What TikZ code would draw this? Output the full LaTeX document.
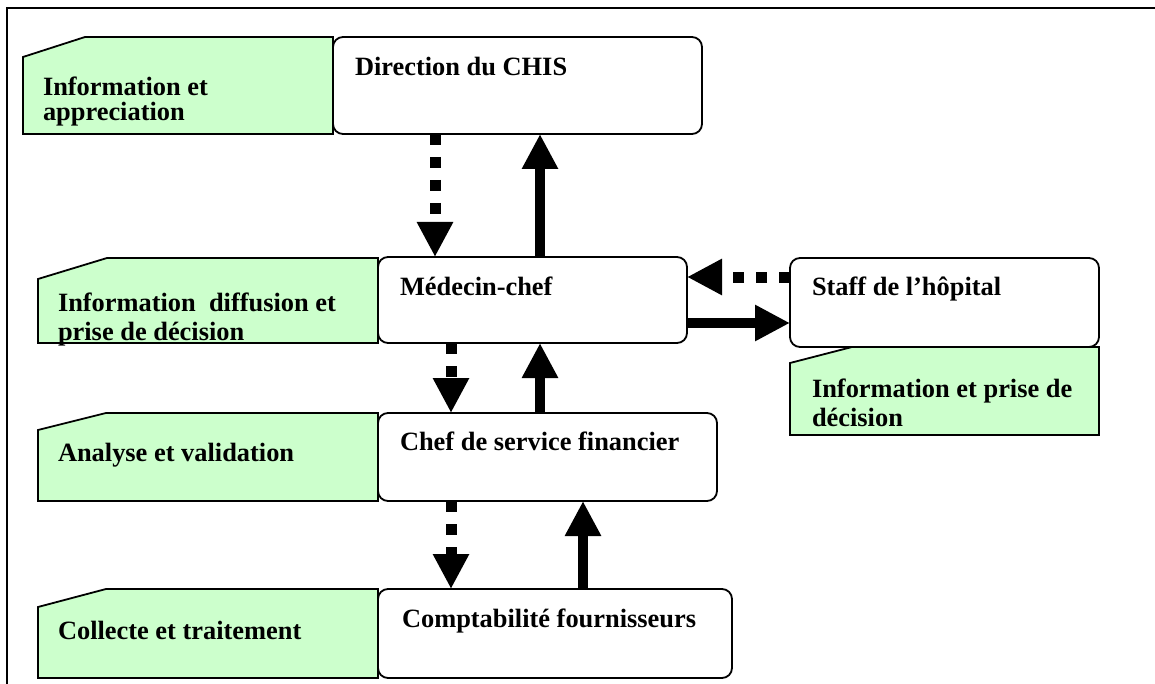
\documentclass[tikz,border=0pt]{standalone}
\usepackage{fontspec}
\setmainfont{Liberation Serif}
\usetikzlibrary{arrows.meta}
\definecolor{paleGreen}{HTML}{CCFFCC}
\begin{document}
\begin{tikzpicture}[x=0.5pt,y=-0.5pt,
  unitbox/.style={draw=black, line width=0.9pt, fill=white, rounded corners=5pt,
    inner sep=0pt, outer sep=0pt},
  tagbox/.style={draw=black, line width=0.9pt, fill=paleGreen},
  lbl/.style={inner sep=0pt, outer sep=0pt, anchor=base west,
    font=\fontsize{13.2}{14.5}\selectfont\bfseries},
  bigtip/.tip={Triangle[width=17pt,length=17.5pt]},
  up/.style={line width=5pt, -bigtip},
  dn/.style={line width=5.5pt, dash pattern=on 5.5pt off 6pt, -bigtip}
]
\useasboundingbox (0,0) rectangle (1155,684);

% frame: top and left rules
\draw[line width=1pt] (1155,8) -- (7,8) -- (7,684);

% green tags with a cut corner
\draw[tagbox] (23,57) -- (85,37) -- (333,37) -- (333,134) -- (23,134) -- cycle;
\draw[tagbox] (38,279) -- (107,258) -- (378,258) -- (378,343) -- (38,343) -- cycle;
\draw[tagbox] (38,430) -- (106,413) -- (378,413) -- (378,501) -- (38,501) -- cycle;
\draw[tagbox] (38,607) -- (106,589) -- (378,589) -- (378,678) -- (38,678) -- cycle;
\draw[tagbox] (790,363) -- (852,347) -- (1099,347) -- (1099,435) -- (790,435) -- cycle;

% unit boxes
\node[unitbox, minimum width=184.5pt, minimum height=48.5pt] (dir)   at (517.5,85.5) {};
\node[unitbox, minimum width=154.5pt, minimum height=43pt]   (med)   at (532.5,300) {};
\node[unitbox, minimum width=169.5pt, minimum height=44pt]   (chef)  at (547.5,457) {};
\node[unitbox, minimum width=177pt,   minimum height=44.5pt] (comp)  at (555,633.5) {};
\node[unitbox, minimum width=154.5pt, minimum height=44.5pt] (staff) at (944.5,302.5) {};

% box titles
\node[lbl] (tdir)   at (355,76)  {Direction du CHIS};
\node[lbl] (tmed)   at (400,295) {Médecin-chef};
\node[lbl] (tchef)  at (400,450) {Chef de service financier};
\node[lbl] (tcomp)  at (402,627) {Comptabilité fournisseurs};
\node[lbl] (tstaff) at (812,295) {Staff de l’hôpital};

% tag texts
\node[lbl] (g1a) at (43,96)  {Information et};
\node[lbl] (g1b) at (43,121) {appreciation};
\node[lbl] (g2a) at (58,311) {Information\ \ diffusion et};
\node[lbl] (g2b) at (58,340) {prise de décision};
\node[lbl] (g3)  at (58,461) {Analyse et\ validation};
\node[lbl] (g4)  at (58,639) {Collecte et traitement};
\node[lbl] (g5a) at (812,397) {Information et prise de};
\node[lbl] (g5b) at (812,426) {décision};

% column positions of the vertical links
\coordinate (xa) at (435,0);
\coordinate (xb) at (540,0);
\coordinate (xc) at (451,0);
\coordinate (xd) at (583,0);
% row positions of the horizontal links
\coordinate (ya) at (0,277);
\coordinate (yb) at (0,323);

% top-down (dashed) and bottom-up (solid) flows
\draw[dn] (dir.south -| xa) -- (med.north -| xa);
\draw[up] (med.north -| xb) -- (dir.south -| xb);
\draw[dn] (med.south -| xc) -- (chef.north -| xc);
\draw[up] (chef.north -| xb) -- (med.south -| xb);
\draw[dn] (chef.south -| xc) -- (comp.north -| xc);
\draw[up] (comp.north -| xd) -- (chef.south -| xd);
\draw[dn] (staff.west |- ya) -- (med.east |- ya);
\draw[up] (med.east |- yb) -- (staff.west |- yb);
\end{tikzpicture}
\end{document}
